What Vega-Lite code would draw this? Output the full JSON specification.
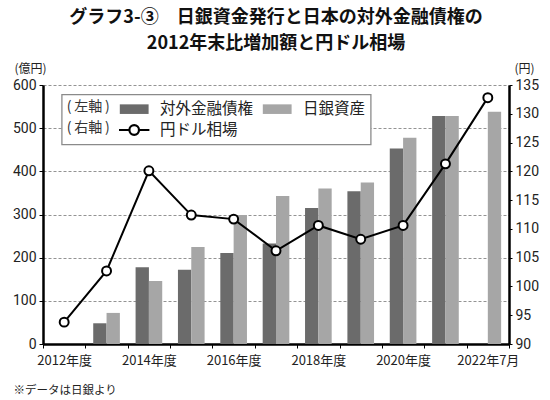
{
  "$schema": "https://vega.github.io/schema/vega-lite/v6.json",
  "width": 466,
  "height": 259,
  "autosize": {"type": "none"},
  "padding": {"left": 43, "top": 85, "right": 41, "bottom": 56},
  "background": "white",
  "config": {"view": {"stroke": null}, "font": "Noto Sans CJK JP", "legend": {"strokeColor": "#8a8a8a", "fillColor": "white"}},
  "title": {
    "text": ["グラフ3-③　日銀資金発行と日本の対外金融債権の", "2012年末比増加額と円ドル相場"],
    "fontSize": 18,
    "fontWeight": "bold",
    "color": "#111111",
    "lineHeight": 26,
    "anchor": "middle",
    "frame": "group",
    "offset": 9
  },
  "datasets": {
    "bars": [
      {"year": "2013年度", "series": "対外金融債権", "value": 48},
      {"year": "2013年度", "series": "日銀資産", "value": 72},
      {"year": "2014年度", "series": "対外金融債権", "value": 178},
      {"year": "2014年度", "series": "日銀資産", "value": 146},
      {"year": "2015年度", "series": "対外金融債権", "value": 172},
      {"year": "2015年度", "series": "日銀資産", "value": 225},
      {"year": "2016年度", "series": "対外金融債権", "value": 211},
      {"year": "2016年度", "series": "日銀資産", "value": 299},
      {"year": "2017年度", "series": "対外金融債権", "value": 233},
      {"year": "2017年度", "series": "日銀資産", "value": 343},
      {"year": "2018年度", "series": "対外金融債権", "value": 315},
      {"year": "2018年度", "series": "日銀資産", "value": 360},
      {"year": "2019年度", "series": "対外金融債権", "value": 354},
      {"year": "2019年度", "series": "日銀資産", "value": 374},
      {"year": "2020年度", "series": "対外金融債権", "value": 453},
      {"year": "2020年度", "series": "日銀資産", "value": 478},
      {"year": "2021年度", "series": "対外金融債権", "value": 528},
      {"year": "2021年度", "series": "日銀資産", "value": 528},
      {"year": "2022年7月", "series": "日銀資産", "value": 538}
    ],
    "rate": [
      {"year": "2012年度", "rate": 93.8},
      {"year": "2013年度", "rate": 102.7},
      {"year": "2014年度", "rate": 120.1},
      {"year": "2015年度", "rate": 112.4},
      {"year": "2016年度", "rate": 111.7},
      {"year": "2017年度", "rate": 106.2},
      {"year": "2018年度", "rate": 110.6},
      {"year": "2019年度", "rate": 108.2},
      {"year": "2020年度", "rate": 110.6},
      {"year": "2021年度", "rate": 121.3},
      {"year": "2022年7月", "rate": 132.8}
    ]
  },
  "layer": [
    {
      "data": {"name": "bars"},
      "mark": {"type": "bar"},
      "encoding": {
        "x": {
          "field": "year",
          "type": "ordinal",
          "sort": null,
          "scale": {
            "domain": ["2012年度", "2013年度", "2014年度", "2015年度", "2016年度", "2017年度", "2018年度", "2019年度", "2020年度", "2021年度", "2022年7月"],
            "paddingInner": 0,
            "paddingOuter": 0
          },
          "axis": {
            "title": "※データは日銀より",
            "titleX": -30,
            "titleY": 46,
            "titleAlign": "left",
            "titleBaseline": "middle",
            "titleFontSize": 11.5,
            "titleFontWeight": "normal",
            "titleColor": "#222222",
            "tickBand": "extent",
            "labelAngle": 0,
            "labelOverlap": false,
            "labelExpr": "indexof(['2013年度','2015年度','2017年度','2019年度','2021年度'], datum.value) >= 0 ? '' : datum.value",
            "labelFontSize": 13,
            "labelColor": "#222222",
            "labelPadding": 6,
            "domainColor": "black",
            "domainWidth": 2.5,
            "tickColor": "black",
            "tickSize": 4,
            "tickWidth": 1,
            "grid": false
          }
        },
        "xOffset": {
          "field": "series",
          "type": "nominal",
          "scale": {"domain": ["対外金融債権", "日銀資産"], "paddingOuter": 0.59, "paddingInner": 0}
        },
        "y": {
          "field": "value",
          "type": "quantitative",
          "scale": {"domain": [0, 600], "nice": false},
          "axis": {
            "title": "(億円)",
            "titleAngle": 0,
            "titleX": -29,
            "titleY": -17,
            "titleAlign": "left",
            "titleBaseline": "middle",
            "titleFontSize": 12,
            "titleFontWeight": "normal",
            "titleColor": "#222222",
            "values": [0, 100, 200, 300, 400, 500, 600],
            "grid": true,
            "gridDash": [3, 2],
            "gridColor": "#777777",
            "gridWidth": 0.8,
            "domainColor": "black",
            "domainWidth": 2.5,
            "tickColor": "black",
            "tickSize": 4,
            "labelFont": "Roboto",
            "labelFontSize": 14,
            "labelColor": "#222222",
            "labelPadding": 3
          }
        },
        "color": {
          "field": "series",
          "type": "nominal",
          "scale": {"domain": ["対外金融債権", "日銀資産", "円ドル相場"], "range": ["#6b6b6b", "#a6a6a6", "#ffffff"]},
          "legend": {
            "title": ["(\u2009左軸\u2009)", "(\u2009右軸\u2009)"],
            "titleOrient": "left",
            "titleAnchor": "start",
            "titleBaseline": "top",
            "titleLineHeight": 21,
            "titleFontSize": 14,
            "titleFontWeight": "normal",
            "titleColor": "#333333",
            "titlePadding": 14,
            "orient": "none",
            "direction": "horizontal",
            "legendX": 18.7,
            "legendY": 9.5,
            "columns": 2,
            "strokeColor": "#8a8a8a",
            "fillColor": "white",
            "padding": 5,
            "symbolSize": 256,
            "labelOffset": 16.4,
            "columnPadding": 4,
            "rowPadding": 2,
            "labelFontSize": 15.5,
            "labelColor": "#222222",
            "encode": {
              "legend": {
                "update": {
                  "stroke": {"value": "#8a8a8a"},
                  "strokeWidth": {"value": 1.3}
                }
              },
              "symbols": {
                "update": {
                  "shape": {"signal": "datum.value === '円ドル相場' ? 'M-1.9,0H-0.6M0.6,0H1.9M-0.6,0A0.6,0.6,0,1,1,0.6,0A0.6,0.6,0,1,1,-0.6,0Z' : 'M-1.8,-0.6H1.8V0.6H-1.8Z'"},
                  "stroke": {"signal": "datum.value === '円ドル相場' ? 'black' : 'transparent'"},
                  "strokeWidth": {"value": 2.2}
                }
              }
            }
          }
        }
      }
    },
    {
      "data": {"name": "rate"},
      "mark": {
        "type": "line",
        "color": "black",
        "strokeWidth": 2,
        "point": {"filled": true, "fill": "white", "stroke": "black", "strokeWidth": 2, "size": 80}
      },
      "encoding": {
        "x": {"field": "year", "type": "ordinal", "sort": null},
        "y": {
          "field": "rate",
          "type": "quantitative",
          "scale": {"domain": [90, 135], "zero": false, "nice": false},
          "axis": {
            "orient": "right",
            "title": "(円)",
            "titleAngle": 0,
            "titleX": 5,
            "titleY": -17,
            "titleAlign": "left",
            "titleBaseline": "middle",
            "titleFontSize": 12,
            "titleFontWeight": "normal",
            "titleColor": "#222222",
            "values": [90, 95, 100, 105, 110, 115, 120, 125, 130, 135],
            "grid": false,
            "domainColor": "black",
            "domainWidth": 2.5,
            "tickColor": "black",
            "tickSize": 3,
            "labelFont": "Roboto",
            "labelFontSize": 14,
            "labelColor": "#222222",
            "labelPadding": 3
          }
        }
      }
    }
  ],
  "resolve": {"scale": {"y": "independent"}}
}
